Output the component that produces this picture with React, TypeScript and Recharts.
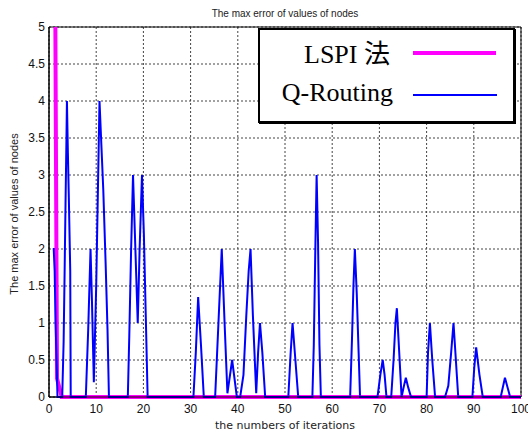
import { LineChart, Line, XAxis, YAxis, CartesianGrid, ReferenceArea } from 'recharts'

// axis ticks
const xTicks = [0, 10, 20, 30, 40, 50, 60, 70, 80, 90, 100]
const yTicks = [0, 0.5, 1, 1.5, 2, 2.5, 3, 3.5, 4, 4.5, 5]

// LSPI: drops from above the top edge to zero within the first iterations
const lspiX = [1.35, 1.7, 2.7, 100]
const lspiY = [5, 0.25, 0, 0]

// Q-Routing: spiky error curve
const qX = [
  0.8, 1.0, 1.2, 1.4, 1.6, 1.8,
  2.8, 3.1, 3.3, 3.5, 3.7, 3.8, 4.0, 4.2, 4.5, 4.6,
  7.8, 8.3, 8.8, 9.1, 9.5, 10.0, 10.7, 11.5, 12.0, 12.4, 12.7,
  16.7, 17.0, 17.4, 17.8, 18.2, 18.8, 19.2, 19.7, 20.1, 20.5, 20.9,
  30.6, 31.1, 31.6, 32.2, 32.8,
  35.2, 35.9, 36.6, 37.2, 37.8, 38.8, 39.8,
  40.5, 41.2, 41.8, 42.3, 42.7, 43.2, 43.9, 44.3, 44.7, 45.2, 45.8,
  50.7, 51.2, 51.6, 52.2, 52.8,
  55.8, 56.1, 56.4, 56.7, 57.0, 57.3, 57.6,
  63.8, 64.2, 64.5, 64.8, 65.2, 65.6, 65.9,
  69.6, 70.2, 70.7, 71.1, 71.5, 72.5, 73.0, 73.4, 73.7, 74.2, 74.7, 75.2, 75.6, 76.1, 76.7,
  80.0, 80.3, 80.7, 81.2, 81.8,
  83.9, 84.6, 85.2, 85.7, 86.2, 86.7,
  89.7, 90.1, 90.5, 91.2, 91.9,
  95.7, 96.6, 97.7, 100,
]
const qY = [
  2, 2, 1.7, 1.0, 0.5, 0,
  0, 0.75, 1.65, 2.6, 3.5, 4, 3.3, 2.7, 1.7, 0,
  0, 0.9, 2, 1.3, 0.2, 1.5, 4, 2.8, 1.8, 0.9, 0,
  0, 0.8, 2.0, 3, 2.2, 1.0, 2.0, 3, 2.2, 1.1, 0,
  0, 0.6, 1.35, 0.7, 0,
  0, 1.0, 2, 1.0, 0.05, 0.5, 0,
  0, 0.3, 1.1, 1.7, 2, 1.1, 0.05, 0.6, 1, 0.6, 0,
  0, 0.6, 1, 0.5, 0,
  0, 0.7, 1.9, 3, 2.1, 0.7, 0,
  0, 0.8, 1.5, 2, 1.4, 0.6, 0,
  0, 0.3, 0.5, 0.3, 0, 0, 0.5, 1.0, 1.2, 0.6, 0, 0.15, 0.26, 0.13, 0,
  0, 0.6, 1, 0.5, 0,
  0, 0.15, 0.6, 1, 0.5, 0,
  0, 0.4, 0.67, 0.3, 0,
  0, 0.26, 0, 0,
]

const sans = '"Liberation Sans", Arial, sans-serif'
const wide = '"DejaVu Sans", sans-serif'
const serif = '"Liberation Serif", "Times New Roman", "Noto Sans CJK JP", serif'

function LegendBox() {
  return (
    <div style={{
      position: 'absolute', left: 258, top: 28, width: 257, height: 95, boxSizing: 'border-box',
      border: '2px solid #000', boxShadow: '1px 1px 0 #000', background: '#fff', fontFamily: serif,
    }}>
      <div style={{ position: 'absolute', left: 0, width: 130, top: 9, textAlign: 'right', fontSize: 26, lineHeight: '26px', color: '#000', whiteSpace: 'nowrap' }}>
        LSPI <span style={{ fontFamily: '"Noto Sans CJK JP", sans-serif' }}>法</span>
      </div>
      <div style={{ position: 'absolute', left: 153, top: 21, width: 83, height: 4, background: '#ff00ff' }} />
      <div style={{ position: 'absolute', left: 0, width: 133, top: 50, textAlign: 'right', fontSize: 26, lineHeight: '26px', color: '#000', whiteSpace: 'nowrap' }}>
        Q-Routing
      </div>
      <div style={{ position: 'absolute', left: 153, top: 64, width: 84, height: 2, background: '#0000ff' }} />
    </div>
  )
}

export default function App() {
  const lspi = lspiX.map((x, i) => ({ x, y: lspiY[i] }))
  const q = qX.map((x, i) => ({ x, y: qY[i] }))
  return (
    <div style={{ position: 'absolute', left: 0, top: 0, width: 528, height: 434, background: '#fff', fontFamily: sans }}>
      <LineChart width={528} height={434} margin={{ top: 27, right: 7, bottom: 7, left: 0 }}>
        <CartesianGrid stroke="#444" strokeDasharray="2 2" />
        <XAxis type="number" dataKey="x" domain={[0, 100]} ticks={xTicks} interval={0}
          height={30} tickSize={4} tickMargin={3} tickLine={false} axisLine={{ stroke: '#000' }}
          tick={{ fontSize: 12, fill: '#111', fontFamily: sans }} />
        <YAxis type="number" dataKey="y" domain={[0, 5]} ticks={yTicks} interval={0}
          width={49} tickSize={4} tickMargin={0} tickLine={false} axisLine={{ stroke: '#000' }}
          tick={{ fontSize: 12, fill: '#111', fontFamily: sans }} />
        <ReferenceArea x1={0} x2={100} y1={0} y2={5} fill="none" stroke="#000" strokeWidth={1} />
        <Line data={lspi} dataKey="y" type="linear" stroke="#ff00ff" strokeWidth={4} dot={false} isAnimationActive={false} />
        <Line data={q} dataKey="y" type="linear" stroke="#0000ff" strokeWidth={2} dot={false} isAnimationActive={false} />
      </LineChart>
      <div style={{ position: 'absolute', left: 49, width: 472, top: 8, textAlign: 'center', fontSize: 10, color: '#222', whiteSpace: 'nowrap' }}>
        The max error of values of nodes
      </div>
      <div style={{ position: 'absolute', left: 49, width: 472, top: 419, textAlign: 'center', fontSize: 11, fontFamily: wide, color: '#222', whiteSpace: 'nowrap' }}>
        the numbers of iterations
      </div>
      <div style={{ position: 'absolute', left: 14, top: 214, transform: 'translate(-50%, -50%) rotate(-90deg)', fontSize: 11, color: '#222', whiteSpace: 'nowrap' }}>
        The max error of values of nodes
      </div>
      <LegendBox />
    </div>
  )
}
